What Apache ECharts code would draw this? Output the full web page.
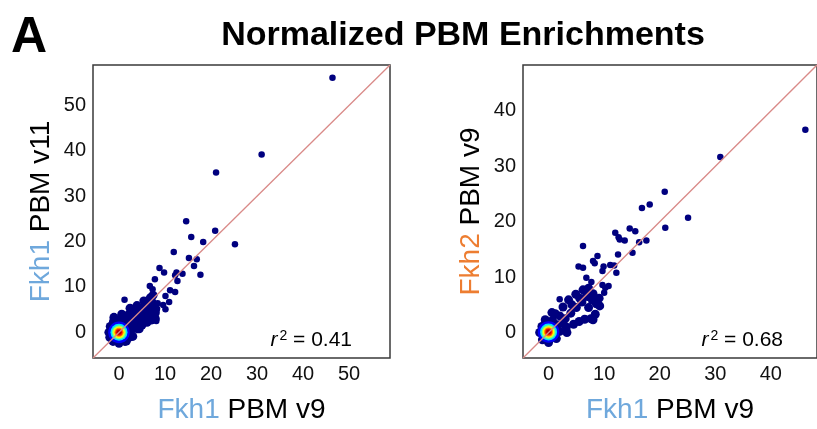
<!DOCTYPE html>
<html><head><meta charset="utf-8">
<script src="https://cdn.jsdelivr.net/npm/echarts@6/dist/echarts.min.js"></script>
<style>html,body{margin:0;padding:0;background:#fff}#c{width:817px;height:429px}</style>
</head><body><div id="c"></div>
<script>
// ---------- data ----------
const leftTicks = [0, 10, 20, 30, 40, 50];
const rightTicks = [0, 10, 20, 30, 40];
const leftRange = [-5.65, 58.9];
const rightRange = [-4.6, 48.3];
const leftR2 = '0.41';
const rightR2 = '0.68';

// Fkh1 v9 (x) vs Fkh1 v11 (y): sparse outliers
const leftOutliers = [
  [46.4,56.1],[31.0,39.2],[21.1,35.2],[14.6,24.5],[20.9,22.4],[15.7,21.0],[18.3,19.9],
  [25.2,19.4],[11.9,17.7],[15.2,16.4],[16.9,16.1],[16.3,14.6],[8.8,14.2],[9.8,13.2],
  [12.5,13.2],[12.2,12.6],[13.8,12.9],[17.7,12.7],[7.8,11.7],[12.7,11.3],[6.7,10.2],
  [7.3,9.5],[11.1,9.3],[12.2,8.9],[10.1,8.0],[1.2,7.2],[10.9,6.7],[8.4,6.4],[9.6,6.0],
  [10.1,5.1],[8.1,4.8],[8.0,3.1],[8.1,2.5]
];
// dense low-density cloud around the origin
const leftCloud = [
  [-2.2,0],[-1.9,1.3],[-1.2,2.4],[0,2.8],[1.3,2.6],[2.2,1.7],[2.6,0.4],[2.2,-1.1],[1.3,-2.0],
  [0,-2.4],[-1.3,-2.0],[-2.0,-1.1],[-1,1],[1,1],[1,-1],[-1,-1],[0,1.8],[1.8,0],[0,-1.8],[-1.8,0],
  [-1.1,3.3],[0.6,4.0],[2.4,5.3],[3.9,5.9],[5.4,6.9],[6.8,7.6],[7.4,8.2],
  [3,3],[3.5,4.5],[4.4,4.2],[5.2,5.4],[6.2,6],[7.2,6.6],[4,3.5],[5,4.5],[6,5.2],[7.2,5.6],
  [3.5,1.8],[4.5,2.5],[5.5,3.2],[6.5,3.8],[7.3,4.6],[8.0,5.2],[7.9,4.3],[7.9,3.0],
  [4,0.8],[5,1.6],[6.1,2.2],[7,2.7],[4.4,0.8],[3,-0.9],[1.6,-1.9],[2,3.8],[1.2,3.6],[3.2,2.2]
];
// density core: [x, y, relative density]
const leftCore = [[0,0,0.12],[0,0,0.35],[0,0,0.5],[0,0,0.62],[0,0,0.75],[0,0,0.86],[0,0,0.96]];

// Fkh1 v9 (x) vs Fkh2 v9 (y)
const rightOutliers = [
  [46.2,36.6],[30.9,31.7],[20.9,25.4],[18.2,23.1],[16.8,22.5],[25.1,20.7],[21.0,18.9],
  [14.6,18.8],[15.6,18.3],[12.0,18.0],[12.6,17.2],[12.8,16.8],[13.7,16.6],[17.6,16.6],
  [16.3,16.3],[6.2,15.6],[15.1,14.4],[12.5,14.1],[8.8,13.8],[8.0,12.9],[8.3,12.5],
  [5.4,11.9],[6.2,11.7],[11.1,12.2],[9.9,11.9],[11.8,12.1],[9.7,11.1],[12.2,10.8],
  [6.8,9.9],[7.7,9.1],[9.7,8.6],[10.8,8.4],[10.2,8.1],[10.0,7.2],[8.1,6.4],[7.7,5.7],[2.0,6.0]
];
const rightCloud = [
  [-1.6,0],[-1.2,1.1],[-0.5,2.0],[0.7,2.2],[1.6,1.4],[2.0,0.2],[1.4,-1.1],[0,-1.8],[-1.1,-1.3],
  [0,1],[1,0],[0,-1],[-1,0],[-0.6,2.3],[0.6,3.6],
  [2,3],[2.6,4.6],[3.6,5.9],[4.9,6.9],[6.2,7.7],[7.2,8.0],[3,2.5],[4,3.5],[5,4.5],[6,5.5],
  [7,6.5],[8,7.0],[3.2,1],[4.5,1.5],[5.5,2.0],[6.5,2.4],[7.6,2.5],[8.4,3.3],[9.2,4.8],
  [9.1,6.2],[8.6,5.2],[7.2,4.5],[1.2,3.4],[4.2,5],[5.6,6.2],[6.8,7.2],[2.6,1.6],[3.3,0],[8,2.3]
];
const rightCore = [[0,0.1,0.12],[0,0.1,0.35],[0,0.1,0.5],[0,0.1,0.62],[0,0.1,0.75],[0,0.1,0.86],[0,0.1,0.96]];

// ---------- chart ----------
const FONT = '"Liberation Sans", Arial, sans-serif';
const NAVY = '#00007f';
const JET = ['#00007f','#0000ff','#007fff','#00ffff','#7fff7f','#ffff00','#ff7f00','#ff0000','#7f0000'];
const BLUE_T = '#6fa8dc', ORANGE_T = '#ed7d31';
const grids = [
  {left: 93, top: 65, width: 297, height: 295},
  {left: 523, top: 65, width: 294, height: 295}
];

function axis(gi, range, ticks, name, isY, rich) {
  return {
    type: 'value', gridIndex: gi, min: range[0], max: range[1],
    axisLine: {show: false}, axisTick: {show: false}, splitLine: {show: false},
    axisLabel: {customValues: ticks, fontFamily: FONT, fontSize: 20, color: '#111', margin: isY ? 7 : 6},
    name: name, nameLocation: 'middle', nameGap: 38,
    nameTextStyle: {fontFamily: FONT, fontSize: 28, color: '#000', rich: rich}
  };
}
const richN = {
  b: {color: BLUE_T, fontFamily: FONT, fontSize: 28},
  o: {color: ORANGE_T, fontFamily: FONT, fontSize: 28}
};

function scatterSet(gi, cloud, outliers, core, range) {
  return [
    {type: 'scatter', xAxisIndex: gi, yAxisIndex: gi, data: cloud, symbolSize: 9,
     itemStyle: {color: NAVY, opacity: 1}, silent: true, z: 2},
    {type: 'scatter', xAxisIndex: gi, yAxisIndex: gi, data: outliers, symbolSize: 6.5,
     itemStyle: {color: NAVY, opacity: 1}, silent: true, z: 2},
    {type: 'scatter', xAxisIndex: gi, yAxisIndex: gi, data: core,
     symbolSize: function (v) { return 24 - 20 * v[2]; },
     itemStyle: {opacity: 1}, silent: true, z: 3},
    {type: 'line', xAxisIndex: gi, yAxisIndex: gi,
     data: [[range[0], range[0]], [range[1], range[1]]],
     symbol: 'none', lineStyle: {color: '#d98a88', width: 1.3}, silent: true, z: 4}
  ];
}

function r2Text(x, val) {
  return {
    type: 'text', x: x, y: 340, z: 10,
    style: {
      text: '{i|r}{s|2}{n| = ' + val + '}',
      align: 'right', verticalAlign: 'middle',
      rich: {
        i: {fontFamily: FONT, fontSize: 21, fontStyle: 'italic', fill: '#000'},
        s: {fontFamily: FONT, fontSize: 14, verticalAlign: 'top', fill: '#000', padding: [0,0,0,2]},
        n: {fontFamily: FONT, fontSize: 21, fill: '#000'}
      }
    }
  };
}

const chart = echarts.init(document.getElementById('c'), null, {renderer: 'canvas'});
chart.setOption({
  backgroundColor: '#fff',
  animation: false,
  title: [
    {text: 'Normalized PBM Enrichments', left: 458, top: 14, textAlign: 'center',
     textStyle: {fontFamily: FONT, fontSize: 34, fontWeight: 'bold', color: '#000'}},
    {text: 'A', left: 6, top: 8,
     textStyle: {fontFamily: FONT, fontSize: 50, fontWeight: 'bold', color: '#000'}}
  ],
  grid: grids.map(g => Object.assign({show: true, borderColor: '#3a3a3a', borderWidth: 1.5, containLabel: false}, g)),
  xAxis: [
    axis(0, leftRange, leftTicks, '{b|Fkh1} PBM v9', false, richN),
    axis(1, rightRange, rightTicks, '{b|Fkh1} PBM v9', false, richN)
  ],
  yAxis: [
    axis(0, leftRange, leftTicks, '{b|Fkh1} PBM v11', true, richN),
    axis(1, rightRange, rightTicks, '{o|Fkh2} PBM v9', true, richN)
  ],
  visualMap: [{
    type: 'continuous', min: 0, max: 1, dimension: 2, seriesIndex: [2, 6],
    inRange: {color: JET}, show: false
  }],
  series: [].concat(
    scatterSet(0, leftCloud, leftOutliers, leftCore, leftRange),
    scatterSet(1, rightCloud, rightOutliers, rightCore, rightRange)
  ),
  graphic: [r2Text(352, leftR2), r2Text(783, rightR2)]
});
</script></body></html>
